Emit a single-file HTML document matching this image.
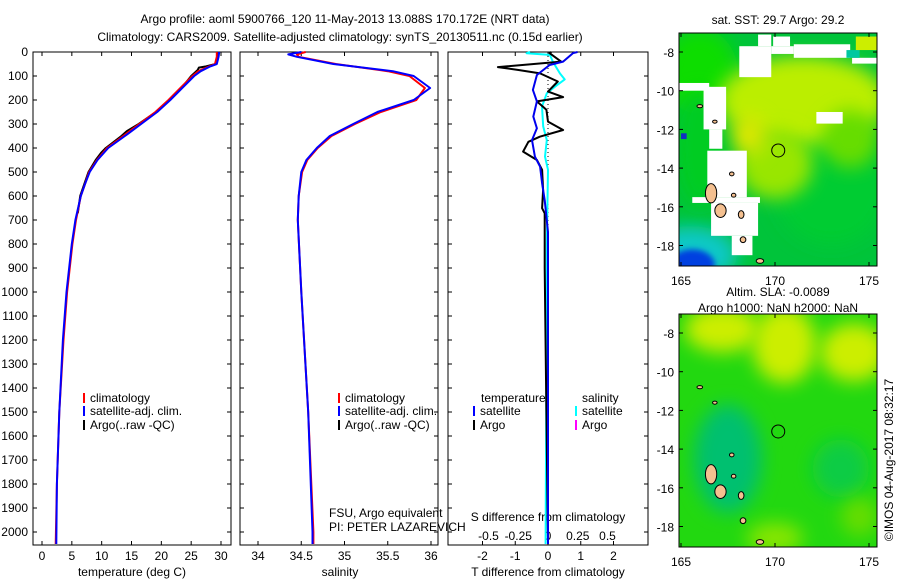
<!DOCTYPE html>
<html><head><meta charset="utf-8"><style>
body{margin:0;background:#fff}
svg{display:block;font-family:"Liberation Sans",sans-serif;font-size:12px}
</style></head><body>
<svg id="c" width="900" height="580" viewBox="0 0 900 580">
<defs>
<filter id="bl" x="-50%" y="-50%" width="200%" height="200%"><feGaussianBlur stdDeviation="9"/></filter>
<filter id="bl2" x="-50%" y="-50%" width="200%" height="200%"><feGaussianBlur stdDeviation="3"/></filter>
<clipPath id="cm1"><rect x="679" y="33" width="198" height="233"/></clipPath>
<clipPath id="cm2"><rect x="679" y="314" width="198" height="233"/></clipPath>
</defs>
<text x="345" y="23" text-anchor="middle">Argo profile: aoml 5900766_120 11-May-2013 13.088S 170.172E (NRT data)</text>
<text x="340" y="41" text-anchor="middle">Climatology: CARS2009. Satellite-adjusted climatology: synTS_20130511.nc (0.15d earlier)</text>
<g id="g"></g>
</svg>
<script>
// ---- data ----
const depthsT=[0,20,50,60,80,100,150,200,250,300,350,400,450,500,550,600,700,800,1000,1200,1500,1800,2050];
const tempClim=[29.3,29.3,29.0,28.0,26.2,25.2,23.2,21.2,19.0,16.3,13.6,10.9,9.2,7.9,7.2,6.5,5.7,5.1,4.2,3.6,2.9,2.5,2.3];
const tempSat=[29.7,29.6,29.3,28.2,26.6,25.5,23.5,21.5,19.3,16.6,13.9,11.1,9.3,8.0,7.2,6.5,5.6,5.0,4.1,3.5,2.9,2.5,2.4];
const depthsArgo=[0,20,50,60,65,75,100,150,200,250,300,330,350,400,420,450,500,600,672];
const tempArgo=[29.4,29.4,29.1,27.5,26.3,26.1,25.0,23.4,21.4,19.1,16.2,14.2,13.3,10.7,9.9,9.0,7.8,6.4,6.0];
const depthsS=[0,10,20,50,80,100,150,200,250,300,350,400,450,500,600,700,1000,1500,2000,2050];
const salClim=[34.55,34.45,34.47,34.9,35.5,35.75,35.93,35.83,35.42,35.12,34.85,34.69,34.57,34.51,34.47,34.46,34.5,34.58,34.64,34.64];
const salSat=[34.5,34.35,34.45,34.87,35.56,35.8,35.99,35.8,35.38,35.1,34.83,34.68,34.56,34.5,34.47,34.46,34.5,34.58,34.63,34.63];
const dTArgoDepth=[0,5,40,63,75,89,123,165,188,206,241,290,325,353,374,415,450,491,575,651,672,900,1500,2050];
const dTArgo=[0.1,0.05,0.4,-1.53,-0.9,-0.24,0.3,0,0.46,-0.34,-0.05,0,0.46,-0.25,-0.6,-0.76,-0.34,-0.18,-0.15,-0.18,-0.1,-0.1,-0.05,0];
const dTSatDepth=[0,5,40,54,96,158,206,269,318,367,436,478,547,617,750,2050];
const dTSat=[0.9,0.76,0.46,0.05,-0.34,-0.46,-0.34,-0.45,-0.34,-0.49,-0.4,-0.24,-0.18,-0.1,0,0];
const dSSatDepth=[0,5,12,40,89,114,144,172,227,310,367,436,491,800,1500,2050];
const dSSat=[-0.15,-0.18,0.016,0.04,0.1,0.14,0.06,-0.01,-0.05,-0.04,-0.01,-0.025,0,-0.01,-0.015,-0.02];
const depthTicks=[0,100,200,300,400,500,600,700,800,900,1000,1100,1200,1300,1400,1500,1600,1700,1800,1900,2000];
const tTicks=[0,5,10,15,20,25,30];
const sTicks=[34,34.5,35,35.5,36];
const sTickLabels=["34","34.5","35","35.5","36"];
const dtTicks=[-2,-1,0,1,2];
const dsTicks=[-0.5,-0.25,0,0.25,0.5];
const dsTickLabels=["-0.5","-0.25","0","0.25","0.5"];
const lonTicks=[165,170,175];
const latTicks=[-8,-10,-12,-14,-16,-18];
const argoLon=170.172, argoLat=-13.088;
// ---- helpers ----
const NS="http://www.w3.org/2000/svg", G=document.getElementById('g');
function el(t,a,p){const e=document.createElementNS(NS,t);for(const k in a)e.setAttribute(k,a[k]);(p||G).appendChild(e);return e;}
const yD=d=>52+d*0.24;
const xT=v=>42+v*5.967;
const xS=v=>258+(v-34)*86.5;
const xDT=v=>548+v*32.75;
const xDS=v=>548+v*119;
function line(xs,ds,fx,col,w,name){
  const pts=xs.map((v,i)=>fx(v).toFixed(1)+','+yD(ds[i]).toFixed(1)).join(' ');
  const e=el('polyline',{points:pts,fill:'none',stroke:col,'stroke-width':w,'stroke-linejoin':'round'});
  
  
}
function frame(x0,x1,name){
  const r=el('rect',{x:x0,y:52,width:x1-x0,height:493,fill:'none',stroke:'#000','stroke-width':1});
  
  
  depthTicks.forEach(d=>{el('line',{x1:x0,x2:x0+4,y1:yD(d),y2:yD(d),stroke:'#000'});el('line',{x1:x1,x2:x1-4,y1:yD(d),y2:yD(d),stroke:'#000'});});
}
function text(x,y,s,name,anchor,extra){
  const t=el('text',Object.assign({x:x,y:y,'text-anchor':anchor||'start'},extra||{}));t.textContent=s;
  
  
  return t;
}
// ---- panel 1 temperature ----
frame(33,231,'temperature-panel');
depthTicks.forEach(d=>text(28,yD(d)+4,String(d),'depth-tick-label','end'));
tTicks.forEach(v=>{el('line',{x1:xT(v),x2:xT(v),y1:545,y2:541,stroke:'#000'});el('line',{x1:xT(v),x2:xT(v),y1:52,y2:56,stroke:'#000'});text(xT(v),560,String(v),'temperature-tick-label','middle');});
text(132,576,'temperature (deg C)','temperature-axis-title','middle');
line(tempArgo,depthsArgo,xT,'#000',2,'argo-temperature-line');
line(tempClim,depthsT,xT,'#f00',2,'climatology-temperature-line');
line(tempSat,depthsT,xT,'#00f',2,'satellite-temperature-line');
// ---- panel 2 salinity ----
frame(240,438,'salinity-panel');
sTicks.forEach((v,i)=>{el('line',{x1:xS(v),x2:xS(v),y1:545,y2:541,stroke:'#000'});el('line',{x1:xS(v),x2:xS(v),y1:52,y2:56,stroke:'#000'});text(xS(v),560,sTickLabels[i],'salinity-tick-label','middle');});
text(340,576,'salinity','salinity-axis-title','middle');
line(salClim,depthsS,xS,'#f00',2,'climatology-salinity-line');
line(salSat,depthsS,xS,'#00f',2,'satellite-salinity-line');
// ---- panel 3 differences ----
frame(448,648,'difference-panel');
el('line',{x1:548,x2:548,y1:52,y2:545,stroke:'#000','stroke-dasharray':'1,3'});
dtTicks.forEach(v=>{el('line',{x1:xDT(v),x2:xDT(v),y1:545,y2:541,stroke:'#000'});el('line',{x1:xDT(v),x2:xDT(v),y1:52,y2:56,stroke:'#000'});text(xDT(v),560,String(v),'t-diff-tick-label','middle');});
dsTicks.forEach((v,i)=>text(xDS(v),540,dsTickLabels[i],'s-diff-tick-label','middle'));
text(548,521,'S difference from climatology','s-diff-axis-title','middle');
text(548,576,'T difference from climatology','t-diff-axis-title','middle');
line(dSSat,dSSatDepth,xDS,'#0ff',2,'satellite-salinity-diff-line');
line(dTArgo,dTArgoDepth,xDT,'#000',2,'argo-temperature-diff-line');
line(dTSat,dTSatDepth,xDT,'#0000ee',2,'satellite-temperature-diff-line');
// legends
function leg(x,y,col,s,name){el('line',{x1:x,x2:x,y1:y-9,y2:y+1,stroke:col,'stroke-width':2});text(x+6,y,s,name);}
leg(84,402,'#f00','climatology','legend-climatology');
leg(84,415,'#00f','satellite-adj. clim.','legend-satellite');
leg(84,429,'#000','Argo(..raw -QC)','legend-argo');
leg(339,402,'#f00','climatology','legend-climatology-2');
leg(339,415,'#00f','satellite-adj. clim.','legend-satellite-2');
leg(339,429,'#000','Argo(..raw -QC)','legend-argo-2');
text(481,402,'temperature','legend-temperature-header');
text(582,402,'salinity','legend-salinity-header');
leg(474,415,'#00f','satellite','legend-t-satellite');
leg(474,429,'#000','Argo','legend-t-argo');
leg(576,415,'#0ff','satellite','legend-s-satellite');
leg(576,429,'#f0f','Argo','legend-s-argo');
text(329,517,'FSU, Argo equivalent','fsu-note');
text(329,531,'PI: PETER LAZAREVICH','pi-note');
// ---- maps ----
const mX=lon=>681+(lon-165)*18.8;
function map(top,clip,name,isSST){
  const mY=lat=>top+19+(-8-lat)*19.35;
  const g=el('g',{'clip-path':'url(#'+clip+')'});
  
  
  const R=(l0,l1,a0,a1,c,f)=>el('rect',Object.assign({x:mX(l0),y:mY(a0),width:mX(l1)-mX(l0),height:mY(a1)-mY(a0),fill:c},f?{filter:f}:{}),g);
  const E=(lo,la,rx,ry,c,f)=>el('ellipse',{cx:mX(lo),cy:mY(la),rx:rx*18.8,ry:ry*19.35,fill:c,filter:f||'url(#bl)'},g);
  if(isSST){
    R(164,176,-6,-20,'#00c43a');
    E(173,-15,3,3,'#00cc30');
    E(165.5,-18.5,2.5,1.5,'#10c8c8');
    E(165.6,-19,1.2,0.8,'#0040e0','url(#bl2)');
    E(166,-9,2,2.2,'#10dd00');
    E(166,-13,1.3,3,'#00cc20');
    E(171.5,-10.5,4.5,2.3,'#bbee00');
    E(170,-13.8,2,1.8,'#99e600');
    E(174,-12.5,1.5,1.5,'#66dd00');
    E(168.6,-12.3,0.9,1,'#dde800');
    // white (no data) areas
    R(164.9,166.5,-9.6,-10,'#fff');
    R(166.2,167.4,-9.8,-12,'#fff');
    R(166.5,167.2,-12,-13,'#fff');
    R(166.4,168.5,-13.1,-15.5,'#fff');
    R(165.6,169.2,-15.5,-15.8,'#fff');
    R(166.6,169.1,-15.8,-17.5,'#fff');
    R(167.7,168.8,-17.5,-18.5,'#fff');
    R(168.1,169.8,-7.7,-9.3,'#fff');
    R(169.8,171,-7.7,-8.1,'#fff');
    R(171,174,-7.6,-8.3,'#fff');
    R(174.1,175.6,-8.3,-8.6,'#fff');
    R(169.1,169.8,-7.1,-7.7,'#fff');
    R(169.9,170.8,-7.2,-7.7,'#fff');
    R(173.8,174.5,-7.9,-8.3,'#00c8a0');
    R(174.3,175.6,-7.2,-7.9,'#ccee00');
    R(172.2,173.6,-11.1,-11.7,'#fff');
    R(169.6,171.1,-12.1,-11.8,'#fff');
    R(165,165.3,-12.2,-12.5,'#1030c0');
  } else {
    R(164,176,-6,-20,'#22d810');
    E(167.2,-7.8,2,1.2,'#ccee00');
    E(170.5,-8.6,1.7,2,'#ccee00');
    E(174.2,-9,1.8,1.5,'#ccee00');
    E(167.5,-14.5,1.8,2.8,'#00c070');
    E(173.5,-15,1.5,1.5,'#11cc44');
    E(170,-18.6,1.5,0.8,'#88e600');
    E(174.5,-17.5,1,1,'#66dd00');
  }
  // islands
  const isl=[[166.6,-15.3,0.3,0.5],[167.1,-16.2,0.3,0.35],[168.2,-16.4,0.15,0.2],[168.3,-17.7,0.15,0.15],[169.2,-18.8,0.2,0.12],[167.7,-14.3,0.12,0.1],[166.8,-11.6,0.12,0.08],[166,-10.8,0.15,0.08],[167.8,-15.4,0.12,0.1]];
  isl.forEach(p=>el('ellipse',{cx:mX(p[0]),cy:mY(p[1]),rx:p[2]*18.8,ry:p[3]*19.35,fill:'#f4c090',stroke:'#000','stroke-width':1},g));
  const c=el('circle',{cx:mX(argoLon),cy:mY(argoLat),r:6.5,fill:'none',stroke:'#000','stroke-width':1});
  
  
  el('rect',{x:679,y:top,width:198,height:233,fill:'none',stroke:'#000'});
  latTicks.forEach(a=>{el('line',{x1:679,x2:683,y1:mY(a),y2:mY(a),stroke:'#000'});el('line',{x1:877,x2:873,y1:mY(a),y2:mY(a),stroke:'#000'});text(674,mY(a)+5,String(a),'lat-tick-label','end');});
  lonTicks.forEach(l=>{el('line',{x1:mX(l),x2:mX(l),y1:top,y2:top+4,stroke:'#000'});el('line',{x1:mX(l),x2:mX(l),y1:top+233,y2:top+229,stroke:'#000'});text(mX(l),top+252,String(l),'lon-tick-label','middle');});
}
map(33,'cm1','sst-map',true);
text(778,24,'sat. SST: 29.7 Argo: 29.2','sst-map-title','middle');
map(314,'cm2','sla-map',false);
text(778,296,'Altim. SLA: -0.0089','sla-map-title','middle');
text(778,312,'Argo h1000: NaN h2000: NaN','sla-map-subtitle','middle');
text(893,460,'©IMOS 04-Aug-2017 08:32:17','imos-stamp','middle',{transform:'rotate(-90 893 460)'});
</script>
</body></html>
